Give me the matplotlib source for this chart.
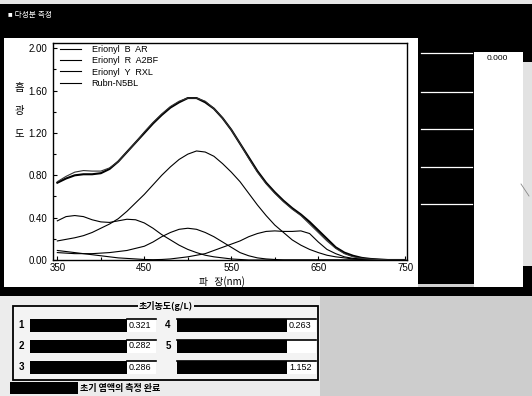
import matplotlib
matplotlib.use('Agg')
import matplotlib.pyplot as plt
from matplotlib.patches import Rectangle
from matplotlib.ticker import MultipleLocator, FormatStrFormatter

plt.rcParams['font.family'] = ['Liberation Sans', 'Noto Sans CJK KR', 'DejaVu Sans']

# ---------------- data ----------------
wavelength = [350, 360, 370, 380, 390, 400, 410, 420, 430, 440, 450, 460, 470, 480, 490,
              500, 510, 520, 530, 540, 550, 560, 570, 580, 590, 600, 610, 620, 630, 640,
              650, 660, 670, 680, 690, 700, 710, 720, 730, 740, 750]

measured = [0.73, 0.77, 0.80, 0.81, 0.81, 0.82, 0.86, 0.93, 1.02, 1.11, 1.20, 1.29, 1.37, 1.44, 1.49,
            1.53, 1.53, 1.49, 1.43, 1.34, 1.23, 1.10, 0.97, 0.84, 0.73, 0.64, 0.56, 0.49, 0.43, 0.36,
            0.28, 0.20, 0.12, 0.07, 0.04, 0.02, 0.01, 0.005, 0.0, 0.0, 0.0]

fitted = [0.74, 0.79, 0.83, 0.845, 0.84, 0.84, 0.87, 0.93, 1.02, 1.11, 1.21, 1.30, 1.38, 1.45, 1.50,
          1.53, 1.53, 1.50, 1.43, 1.34, 1.23, 1.10, 0.96, 0.83, 0.72, 0.63, 0.55, 0.48, 0.42, 0.34,
          0.26, 0.18, 0.11, 0.06, 0.03, 0.015, 0.008, 0.004, 0.0, 0.0, 0.0]

erionyl_b = [0.09, 0.08, 0.07, 0.06, 0.05, 0.04, 0.03, 0.02, 0.015, 0.01, 0.005, 0.003, 0.005, 0.01, 0.02,
             0.03, 0.045, 0.06, 0.09, 0.12, 0.15, 0.18, 0.22, 0.25, 0.27, 0.275, 0.27, 0.27, 0.275, 0.25,
             0.17, 0.10, 0.06, 0.03, 0.015, 0.01, 0.005, 0.0, 0.0, 0.0, 0.0]

erionyl_r = [0.18, 0.195, 0.21, 0.23, 0.26, 0.30, 0.34, 0.39, 0.46, 0.54, 0.62, 0.71, 0.80, 0.88, 0.95,
             1.00, 1.03, 1.02, 0.98, 0.91, 0.83, 0.74, 0.63, 0.52, 0.42, 0.33, 0.26, 0.19, 0.14, 0.10,
             0.07, 0.045, 0.03, 0.02, 0.01, 0.005, 0.0, 0.0, 0.0, 0.0, 0.0]

erionyl_y = [0.37, 0.41, 0.42, 0.41, 0.38, 0.36, 0.355, 0.37, 0.385, 0.38, 0.35, 0.30, 0.24, 0.19, 0.14,
             0.10, 0.07, 0.045, 0.03, 0.02, 0.01, 0.005, 0.0, 0.0, 0.0, 0.0, 0.0, 0.0, 0.0, 0.0,
             0.0, 0.0, 0.0, 0.0, 0.0, 0.0, 0.0, 0.0, 0.0, 0.0, 0.0]

rubn_n5bl = [0.07, 0.065, 0.06, 0.06, 0.06, 0.065, 0.07, 0.08, 0.09, 0.11, 0.13, 0.17, 0.22, 0.26, 0.29,
             0.30, 0.29, 0.26, 0.22, 0.17, 0.12, 0.07, 0.04, 0.02, 0.01, 0.005, 0.0, 0.0, 0.0, 0.0,
             0.0, 0.0, 0.0, 0.0, 0.0, 0.0, 0.0, 0.0, 0.0, 0.0, 0.0]

legend_labels = ['Erionyl  B  AR', 'Erionyl  R  A2BF', 'Erionyl  Y  RXL', 'Rubn-N5BL']

x_ticks = [350, 450, 550, 650, 750]
y_ticks = [0.00, 0.40, 0.80, 1.20, 1.60, 2.00]

conc_labels_left = ['1', '2', '3']
conc_values_left = ['0.321', '0.282', '0.286']
conc_labels_right = ['4', '5', '']
conc_values_right = ['0.263', '', '1.152']

# ---------------- figure ----------------
W, H = 532, 396
fig = plt.figure(figsize=(W / 100, H / 100), dpi=100)
fig.patch.set_facecolor('#d0d0d0')
bg = fig.add_axes([0, 0, 1, 1])
bg.set_xlim(0, W)
bg.set_ylim(H, 0)
bg.axis('off')


def rect(x0, y0, x1, y1, fc, ec='none', lw=0, z=1):
    bg.add_patch(Rectangle((x0, y0), x1 - x0, y1 - y0, facecolor=fc,
                           edgecolor=ec, linewidth=lw, zorder=z))


# window chrome
rect(0, 0, W, 4, '#e6e6e6')
rect(0, 4, W, 38, 'black')
bg.text(8, 16, '■ 다성분 측정', color='white', fontsize=5.5, va='center', ha='left', zorder=3)
rect(0, 38, 4, 296, 'black')
rect(4, 38, 418, 288, 'white')
rect(418, 38, 474, 284, 'black')
for yy in [53, 92, 129, 167, 204]:
    bg.plot([421, 472], [yy, yy], color='white', lw=0.9, zorder=2)
rect(474, 38, W, 52, 'black')
rect(474, 52, 523, 287, 'white')
bg.text(497, 59, '0.000', fontsize=6, ha='center', va='center', zorder=3)
rect(523, 52, W, 62, 'black')
rect(523, 62, W, 266, '#e2e2e2')
rect(523, 266, W, 288, 'black')
bg.plot([521, 529], [184, 196], color='#888888', lw=0.6, zorder=2)
rect(0, 287, W, 296, 'black')
rect(0, 296, 320, H, '#ececec')
rect(320, 296, W, H, '#cdcdcd')

# group box
rect(13, 306, 318, 380, '#f3f3f3', ec='black', lw=1.3, z=2)
bg.text(166, 306, '초기농도(g/L)', fontsize=6.5, fontweight='bold', ha='center', va='center',
        family=['Noto Sans CJK KR', 'DejaVu Sans'], zorder=4,
        bbox=dict(facecolor='#f3f3f3', edgecolor='none', pad=1))
row_y = [325, 346, 367]
for i, yy in enumerate(row_y):
    bg.text(21, yy, conc_labels_left[i], fontsize=7, fontweight='bold', ha='center', va='center', zorder=4)
    rect(30, yy - 6.5, 127, yy + 6.5, 'black', z=3)
    rect(127, yy - 6.5, 156, yy + 6.5, 'white', z=3)
    bg.plot([127, 156], [yy - 6.5, yy - 6.5], color='black', lw=1.2, zorder=4)
    bg.text(129, yy, conc_values_left[i], fontsize=6.5, ha='left', va='center', zorder=4)

    bg.text(168, yy, conc_labels_right[i], fontsize=7, fontweight='bold', ha='center', va='center', zorder=4)
    rect(177, yy - 6.5, 287, yy + 6.5, 'black', z=3)
    rect(287, yy - 6.5, 316, yy + 6.5, 'white', z=3)
    bg.plot([177, 316], [yy - 6.5, yy - 6.5], color='black', lw=1.2, zorder=4)
    bg.text(289, yy, conc_values_right[i], fontsize=6.5, ha='left', va='center', zorder=4)

rect(10, 382, 78, 394, 'black', z=3)
bg.text(80, 388, '초기 염액의 측정 완료', fontsize=6.5, fontweight='bold', ha='left', va='center',
        family=['Noto Sans CJK KR', 'DejaVu Sans'], zorder=4)

# axis labels (Korean)
for ch, yy in zip(['흡', '광', '도'], [88, 111, 134]):
    bg.text(19, yy, ch, fontsize=7.5, ha='center', va='center',
            family=['Noto Sans CJK KR', 'DejaVu Sans'], zorder=4)
bg.text(222, 282, '파   장(nm)', fontsize=7, ha='center', va='center',
        family=['Noto Sans CJK KR', 'DejaVu Sans'], zorder=4)

# ---------------- main plot ----------------
L, R, T, B = 53, 407, 43, 260
ax = fig.add_axes([L / W, 1 - B / H, (R - L) / W, (B - T) / H])
ax.set_facecolor('white')
ax.plot(wavelength, measured, color='black', lw=1.5, zorder=5)
ax.plot(wavelength, fitted, color='#333333', lw=0.8, zorder=5)
lines = []
for series in [erionyl_b, erionyl_r, erionyl_y, rubn_n5bl]:
    ln, = ax.plot(wavelength, series, color='black', lw=0.8)
    lines.append(ln)
ax.set_xlim(345, 752)
ax.set_ylim(0, 2.05)
ax.set_xticks(x_ticks)
ax.set_yticks(y_ticks)
ax.yaxis.set_major_formatter(FormatStrFormatter('%.2f'))
ax.yaxis.set_minor_locator(MultipleLocator(0.2))
ax.xaxis.set_minor_locator(MultipleLocator(50))
ax.tick_params(which='both', direction='in', labelsize=7, width=0.8)
ax.tick_params(axis='y', pad=4)
ax.tick_params(axis='x', pad=2.5)
ax.tick_params(which='major', length=3)
ax.tick_params(which='minor', length=2)
for s in ax.spines.values():
    s.set_linewidth(1.0)

leg = ax.legend(lines, legend_labels, loc='upper left', frameon=False, fontsize=6.5,
                handlelength=2.3, handletextpad=1.2, labelspacing=0.25, borderpad=0,
                borderaxespad=0, bbox_to_anchor=((60 - L) / (R - L), 1 - (45 - T) / (B - T)))

fig.savefig('out.png', dpi=100, facecolor=fig.get_facecolor())
